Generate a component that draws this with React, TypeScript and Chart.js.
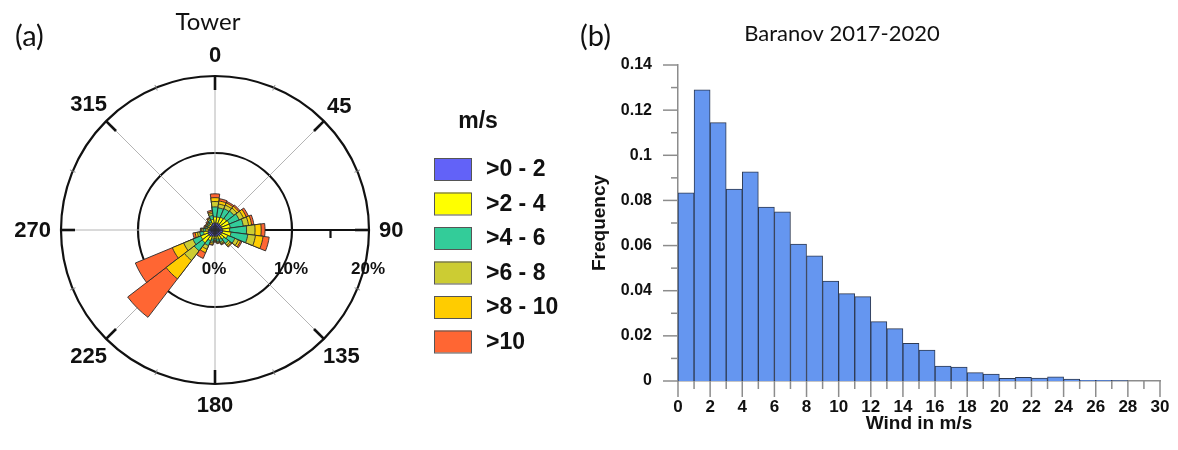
import React, { useEffect, useRef } from 'react';
import { Chart, registerables } from 'chart.js';

Chart.register(...registerables);

// ---- Wind rose (Tower) ----
// Sector centres in degrees, clockwise from north
const directions = [0, 15, 30, 45, 60, 75, 90, 105, 120, 135, 150, 165, 180, 195, 210, 225, 240, 255, 270, 285, 300, 315, 330, 345];

const speedClasses = ['>0 - 2', '>2 - 4', '>4 - 6', '>6 - 8', '>8 - 10', '>10'];
const classColors = ['#6262f8', '#ffff00', '#33cc99', '#cccc33', '#ffcc00', '#ff6633'];

// Share of time (%) in each direction sector, one array per speed class
const speed0to2 = [0.9, 0.9, 0.9, 0.9, 0.9, 0.9, 1.0, 1.0, 0.9, 0.9, 0.8, 0.8, 0.8, 0.8, 0.9, 1.0, 1.0, 0.9, 0.8, 0.7, 0.7, 0.7, 0.8, 0.9];
const speed2to4 = [0.8, 0.8, 0.9, 1.0, 1.1, 1.1, 0.9, 1.1, 0.9, 0.6, 0.5, 0.4, 0.3, 0.4, 0.6, 1.1, 1.0, 0.6, 0.4, 0.3, 0.3, 0.3, 0.3, 0.5];
const speed4to6 = [1.3, 1.2, 1.2, 1.2, 1.4, 1.7, 2.2, 2.2, 1.0, 0.7, 0.4, 0.3, 0.2, 0.3, 0.7, 1.3, 1.1, 0.5, 0.3, 0.2, 0.1, 0.2, 0.3, 0.5];
const speed6to8 = [0.7, 0.5, 0.5, 0.5, 0.6, 0.7, 1.1, 1.0, 0.5, 0.3, 0.2, 0.1, 0.1, 0.2, 0.5, 1.6, 1.3, 0.3, 0.2, 0.1, 0.1, 0.1, 0.2, 0.3];
const speed8to10 = [0.5, 0.4, 0.3, 0.3, 0.4, 0.4, 0.8, 1.0, 0.3, 0.2, 0.1, 0.1, 0.1, 0.2, 0.5, 3.0, 1.6, 0.3, 0.1, 0.1, 0.1, 0.1, 0.1, 0.2];
const speedOver10 = [0.5, 0.3, 0.2, 0.2, 0.3, 0.3, 0.5, 0.8, 0.2, 0.1, 0.1, 0.1, 0.1, 0.1, 0.8, 6.3, 5.2, 0.3, 0.1, 0.1, 0.1, 0.1, 0.1, 0.2];

const compassAngles = [0, 45, 90, 135, 180, 225, 270, 315];
const compassLabels = ['0', '45', '90', '135', '180', '225', '270', '315'];
const radialTicks = [0, 10, 20];
const radialLabels = ['0%', '10%', '20%'];
const radialMinorTicks = [5, 15];

// ---- Histogram (Baranov 2017-2020) ----
const windBinStart = [0, 1, 2, 3, 4, 5, 6, 7, 8, 9, 10, 11, 12, 13, 14, 15, 16, 17, 18, 19, 20, 21, 22, 23, 24, 25, 26, 27, 28, 29];
const windFrequency = [
  0.0834, 0.129, 0.1145, 0.085, 0.0927, 0.077, 0.0749, 0.0607, 0.0554, 0.0443,
  0.0387, 0.0374, 0.0263, 0.0232, 0.0167, 0.0137, 0.0066, 0.0062, 0.0037, 0.0031,
  0.0012, 0.0016, 0.0013, 0.0019, 0.0008, 0.0003, 0.0003, 0.0002, 0, 0,
];
const windTicks = [0, 2, 4, 6, 8, 10, 12, 14, 16, 18, 20, 22, 24, 26, 28, 30];
const freqTicks = [0, 0.02, 0.04, 0.06, 0.08, 0.1, 0.12, 0.14];
const freqTickLabels = ['0', '0.02', '0.04', '0.06', '0.08', '0.1', '0.12', '0.14'];

const SANS = '"Liberation Sans", Arial, sans-serif';
const HUMANIST = 'Lato, "Open Sans", sans-serif';
const AXIS_GRAY = '#8c8c8c';

const classSeries = [speed0to2, speed2to4, speed4to6, speed6to8, speed8to10, speedOver10];

// Stacked radius of each class: sum of this class and every slower one
const stackedSeries = classSeries.map((_, k) =>
  directions.map((_, d) => {
    let s = 0;
    for (let j = 0; j <= k; j++) s += classSeries[j][d];
    return Math.round(s * 100) / 100;
  })
);

function strokeLine(ctx: CanvasRenderingContext2D, a: number[], b: number[]) {
  ctx.beginPath();
  ctx.moveTo(a[0], a[1]);
  ctx.lineTo(b[0], b[1]);
  ctx.stroke();
}

const roseDecor = {
  id: 'roseDecor',
  beforeDatasetsDraw(chart: any) {
    const r = chart.scales.r;
    const ctx: CanvasRenderingContext2D = chart.ctx;
    const cx = r.xCenter;
    const cy = r.yCenter;
    const R = r.getDistanceFromCenterForValue(r.max);
    const pt = (deg: number, d: number) => [cx + Math.sin((deg * Math.PI) / 180) * d, cy - Math.cos((deg * Math.PI) / 180) * d];
    ctx.save();
    // spokes every 45 degrees
    ctx.strokeStyle = '#b4b4b4';
    ctx.lineWidth = 1;
    compassAngles.forEach((a) => strokeLine(ctx, pt(a, 0), pt(a, R)));
    // percentage axis towards the east
    ctx.strokeStyle = '#111';
    ctx.lineWidth = 2.2;
    strokeLine(ctx, pt(90, 0), pt(90, R));
    radialMinorTicks.forEach((v) => {
      const d = r.getDistanceFromCenterForValue(v);
      strokeLine(ctx, [cx + d, cy], [cx + d, cy + 8]);
    });
    // rim ticks
    ctx.lineWidth = 2.6;
    compassAngles.forEach((a) => strokeLine(ctx, pt(a, R), pt(a, R - 14)));
    ctx.strokeStyle = '#8a8a8a';
    ctx.lineWidth = 1;
    compassAngles.forEach((a) => strokeLine(ctx, pt(a + 22.5, R - 3), pt(a + 22.5, R + 3)));
    ctx.restore();
  },
  afterDraw(chart: any) {
    const r = chart.scales.r;
    const ctx: CanvasRenderingContext2D = chart.ctx;
    const cx = r.xCenter;
    const cy = r.yCenter;
    const R = r.getDistanceFromCenterForValue(r.max);
    ctx.save();
    ctx.fillStyle = '#111';
    ctx.textBaseline = 'middle';
    ctx.textAlign = 'center';
    // compass labels
    ctx.font = `bold 22px ${SANS}`;
    compassAngles.forEach((a, i) => {
      const w = ctx.measureText(compassLabels[i]).width;
      const s = Math.sin((a * Math.PI) / 180);
      const c = Math.cos((a * Math.PI) / 180);
      const d = R + 21 + s * s * (w / 2 - 11);
      ctx.fillText(compassLabels[i], cx + s * d, cy - c * d + 1);
    });
    // percentage labels under the east axis
    ctx.font = `bold 17px ${SANS}`;
    radialTicks.forEach((v, i) => {
      ctx.fillText(radialLabels[i], cx + r.getDistanceFromCenterForValue(v) - 1, cy + 39);
    });
    // panel letter and title
    ctx.font = `29px ${HUMANIST}`;
    ctx.textAlign = 'left';
    ctx.fillText('(a)', 15, 37);
    ctx.textAlign = 'center';
    ctx.font = `24px ${HUMANIST}`;
    ctx.fillText('Tower', cx - 7, 22);
    // legend
    const lx = 434;
    ctx.font = `bold 23px ${SANS}`;
    ctx.fillText('m/s', 478, 122);
    ctx.textAlign = 'left';
    chart.data.datasets.forEach((ds: any, i: number) => {
      const y = 169 + i * 34.5;
      ctx.fillStyle = ds.backgroundColor;
      ctx.fillRect(lx, y - 11, 37, 22);
      ctx.strokeStyle = '#555';
      ctx.lineWidth = 1;
      ctx.strokeRect(lx + 0.5, y - 10.5, 37, 22);
      ctx.fillStyle = '#111';
      ctx.font = `bold 23px ${SANS}`;
      ctx.fillText(ds.label, 486, y + 1);
    });
    ctx.restore();
  },
};

function WindRose() {
  const ref = useRef<HTMLCanvasElement>(null);
  useEffect(() => {
    const chart = new Chart(ref.current as HTMLCanvasElement, {
      type: 'polarArea',
      data: {
        labels: directions.map(String),
        datasets: speedClasses.map((name, k) => ({
          label: name,
          data: stackedSeries[k],
          backgroundColor: classColors[k],
          borderColor: '#2a2a2a',
          borderWidth: 0.9,
        })),
      },
      options: {
        responsive: false,
        animation: false,
        layout: { padding: { left: 61, right: 211, top: 76, bottom: 66 } },
        plugins: { legend: { display: false }, tooltip: { enabled: false } },
        scales: {
          r: {
            min: 0,
            max: 20,
            startAngle: -7.5,
            ticks: { display: false, stepSize: 10 },
            grid: { circular: true, color: '#111', lineWidth: 2.2 },
            angleLines: { display: false },
            pointLabels: { display: false },
          },
        },
      } as any,
      plugins: [roseDecor],
    });
    return () => chart.destroy();
  }, []);
  return <canvas ref={ref} width={580} height={450} style={{ position: 'absolute', left: 0, top: 0 }} />;
}

const histDecor = {
  id: 'histDecor',
  afterDraw(chart: any) {
    const { ctx, scales } = chart;
    const x = scales.x;
    const y = scales.y;
    const y0 = y.getPixelForValue(0);
    const xl = x.getPixelForValue(0);
    ctx.save();
    ctx.strokeStyle = AXIS_GRAY;
    ctx.lineWidth = 1.5;
    // x ticks at every bin edge, longer on labelled ones
    for (let v = 0; v <= 30; v++) {
      const px = x.getPixelForValue(v);
      strokeLine(ctx, [px, y0], [px, y0 + (v % 2 === 0 ? 16 : 8)]);
    }
    // y ticks every 0.01, longer on labelled ones
    for (let i = 0; i <= 14; i++) {
      const py = y.getPixelForValue(i / 100);
      strokeLine(ctx, [xl, py], [xl - (i % 2 === 0 ? 15 : 7), py]);
    }
    ctx.fillStyle = '#111';
    ctx.textBaseline = 'middle';
    ctx.textAlign = 'left';
    ctx.font = `29px ${HUMANIST}`;
    ctx.fillText('(b)', 0, 37);
    ctx.textAlign = 'center';
    ctx.font = `22px ${HUMANIST}`;
    ctx.fillText('Baranov 2017-2020', 262, 34);
    ctx.restore();
  },
};

function WindHistogram() {
  const ref = useRef<HTMLCanvasElement>(null);
  useEffect(() => {
    const tickFont = { family: SANS, weight: 'bold' as const, size: 17 };
    const titleFont = { family: SANS, weight: 'bold' as const, size: 19 };
    const chart = new Chart(ref.current as HTMLCanvasElement, {
      type: 'bar',
      data: {
        datasets: [
          {
            data: windBinStart.map((b, i) => ({ x: b + 0.5, y: windFrequency[i] })),
            backgroundColor: '#6596f0',
            borderColor: '#2e3a52',
            borderWidth: 1,
            barPercentage: 1,
            categoryPercentage: 1,
          },
        ],
      },
      options: {
        responsive: false,
        animation: false,
        layout: { padding: { left: 0, right: 18, top: 65, bottom: 0 } },
        plugins: { legend: { display: false }, tooltip: { enabled: false } },
        scales: {
          x: {
            type: 'linear',
            min: 0,
            max: 30,
            offset: false,
            afterBuildTicks: (s: any) => {
              s.ticks = windTicks.map((v) => ({ value: v }));
            },
            afterFit: (s: any) => {
              s.height = 69;
              s.paddingLeft = 0;
              s.paddingRight = 0;
            },
            grid: { display: false, drawTicks: false },
            border: { display: true, color: AXIS_GRAY, width: 1.5 },
            ticks: { padding: 16, color: '#111', font: tickFont, maxRotation: 0, autoSkip: false, callback: (v: any) => String(v) },
            title: {
              display: true,
              text: 'Wind in m/s',
              color: '#111',
              font: titleFont,
              padding: { top: 0, bottom: 15 },
            },
          },
          y: {
            min: 0,
            max: 0.14,
            afterBuildTicks: (s: any) => {
              s.ticks = freqTicks.map((v) => ({ value: v }));
            },
            afterFit: (s: any) => {
              s.width = 98;
            },
            grid: { display: false, drawTicks: false },
            border: { display: true, color: AXIS_GRAY, width: 1.5 },
            ticks: {
              padding: 26,
              color: '#111',
              font: { ...tickFont, size: 16 },
              callback: (_v: any, i: number) => freqTickLabels[i],
            },
            title: {
              display: true,
              text: 'Frequency',
              color: '#111',
              font: titleFont,
              padding: { top: 8, bottom: 0 },
            },
          },
        },
      } as any,
      plugins: [histDecor],
    });
    return () => chart.destroy();
  }, []);
  return <canvas ref={ref} width={598} height={450} style={{ position: 'absolute', left: 580, top: 0 }} />;
}

export default function App() {
  return (
    <div style={{ position: 'absolute', left: 0, top: 0, width: 1178, height: 450, background: '#fff', overflow: 'hidden' }}>
      <WindRose />
      <WindHistogram />
    </div>
  );
}
